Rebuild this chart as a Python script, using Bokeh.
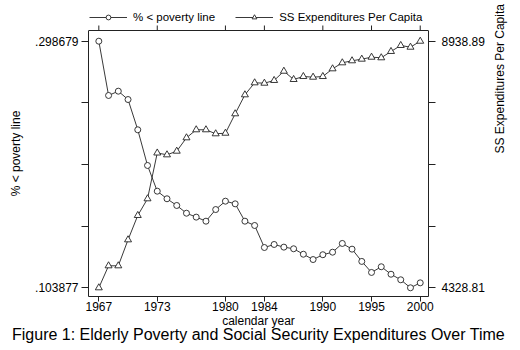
import math
from bokeh.plotting import figure
from bokeh.models import (Range1d, LinearAxis, FixedTicker, Legend, LegendItem, Span)
from bokeh.embed import file_html
from bokeh.resources import INLINE

years = list(range(1967, 2001))
poverty = [0.298679, 0.2558, 0.2592, 0.2526, 0.2287, 0.2005, 0.1802, 0.1742, 0.1689, 0.1628,
           0.1597, 0.1565, 0.1657, 0.1723, 0.1702, 0.1565, 0.1531, 0.1357, 0.1381, 0.1360,
           0.1347, 0.1304, 0.1262, 0.1300, 0.1320, 0.1389, 0.1344, 0.1247, 0.1160, 0.1205,
           0.1146, 0.1102, 0.103877, 0.1078]
ss_exp = [4328.81, 4740, 4740, 5226, 5681, 5993, 6849, 6815, 6883, 7133,
          7283, 7283, 7208, 7219, 7582, 7937, 8161, 8154, 8205, 8378,
          8223, 8279, 8266, 8279, 8423, 8535, 8573, 8603, 8640, 8629,
          8747, 8859, 8827, 8938.89]
x_ticks = [1967, 1973, 1980, 1984, 1990, 1995, 2000]
pov_ticks = [0.103877, 0.1525775, 0.201278, 0.2499785, 0.298679]
pov_labels = [".103877", "", "", "", ".298679"]
ss_ticks = [4328.81, 5481.33, 6633.85, 7786.37, 8938.89]
ss_labels = ["4328.81", "", "", "", "8938.89"]
series_names = ["% < poverty line", "SS Expenditures Per Capita"]

FONT = "Liberation Sans"
INK = "#222222"

# plot box (axes region) and the extra strip above it that holds the legend
FRAME_H = 286
BOX_H = 266
pov_lo, pov_box_hi = 0.0970, 0.30713
ss_lo, ss_box_hi = 4166.2, 9138.9
pov_px = (pov_box_hi - pov_lo) / BOX_H
ss_px = (ss_box_hi - ss_lo) / BOX_H

p = figure(frame_width=340, frame_height=FRAME_H, output_backend="svg", toolbar_location=None,
           x_range=Range1d(1965.94, 2000.85),
           y_range=Range1d(pov_lo, pov_lo + FRAME_H * pov_px),
           min_border_left=88, min_border_right=92, min_border_top=10, min_border_bottom=54)
p.extra_y_ranges = {"ss": Range1d(ss_lo, ss_lo + FRAME_H * ss_px)}
p.grid.visible = False
p.outline_line_color = None
p.background_fill_color = "white"
p.border_fill_color = "white"

def style(ax):
    ax.axis_line_color = INK
    ax.major_tick_line_color = INK
    ax.major_tick_in = 0
    ax.major_tick_out = 7
    ax.minor_tick_line_color = None
    ax.major_label_text_font = FONT
    ax.major_label_text_font_size = "12px"
    ax.major_label_text_color = "black"
    ax.axis_label_text_font = FONT
    ax.axis_label_text_font_size = "12px"
    ax.axis_label_text_font_style = "normal"
    ax.axis_label_text_color = "black"

xa = p.xaxis[0]
xa.ticker = FixedTicker(ticks=x_ticks)
xa.axis_label = "calendar year"
style(xa)
xa.major_tick_out = 5
xa.major_label_standoff = 0
xa.axis_label_standoff = 0

ya = p.yaxis[0]
ya.ticker = FixedTicker(ticks=pov_ticks)
ya.bounds = (pov_lo, pov_box_hi)
ya.major_label_overrides = {t: l for t, l in zip(pov_ticks, pov_labels)}
ya.axis_label = series_names[0]
style(ya)
ya.major_label_standoff = 3
ya.axis_label_standoff = 9

ra = LinearAxis(y_range_name="ss", ticker=FixedTicker(ticks=ss_ticks), axis_label=series_names[1],
                bounds=(ss_lo, ss_box_hi))
ra.major_label_overrides = {t: l for t, l in zip(ss_ticks, ss_labels)}
style(ra)
ra.major_label_standoff = 6
ra.axis_label_standoff = 12
try:
    ra.axis_label_orientation = math.pi / 2
except Exception:
    pass
ra.axis_label_text_align = "center"
p.add_layout(ra, "right")

# top edge of the box, with outward ticks at the year positions
p.add_layout(Span(location=pov_box_hi, dimension="width", line_color=INK, line_width=1))
p.segment(x0=x_ticks, y0=[pov_box_hi] * len(x_ticks), x1=x_ticks,
          y1=[pov_box_hi + 5 * pov_px] * len(x_ticks), line_color=INK, line_width=1)

l1 = p.line(years, poverty, line_color=INK, line_width=0.9)
m1 = p.scatter(years, poverty, marker="circle", size=6, line_color=INK, fill_color="white", line_width=0.9)
l2 = p.line(years, ss_exp, line_color=INK, line_width=0.9, y_range_name="ss")
m2 = p.scatter(years, ss_exp, marker="triangle", size=7, line_color=INK, fill_color="white",
               line_width=0.9, y_range_name="ss")

legend = Legend(items=[LegendItem(label=series_names[0], renderers=[l1, m1]),
                       LegendItem(label=series_names[1], renderers=[l2, m2])],
                orientation="horizontal", location="top_left",
                glyph_width=38, glyph_height=12, label_height=12, label_standoff=6, spacing=20,
                padding=0, margin=1, border_line_color=None, background_fill_alpha=0,
                label_text_font=FONT, label_text_font_size="11.5px", label_text_color="black")
p.add_layout(legend, "center")

p.title.text = "Figure 1: Elderly Poverty and Social Security Expenditures Over Time"
p.title_location = "below"
p.title.text_font = FONT
p.title.text_font_size = "16px"
p.title.text_font_style = "normal"
p.title.text_color = "black"
p.title.align = "center"
p.title.offset = 0
try:
    p.title.standoff = -14
except Exception:
    p.title.standoff = 0

open("out.html", "w").write(file_html(p, INLINE))
